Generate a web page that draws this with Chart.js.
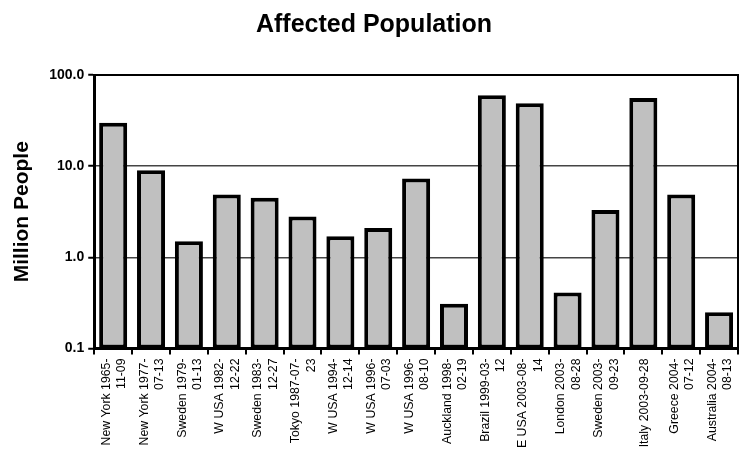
<!DOCTYPE html>
<html>
<head>
<meta charset="utf-8">
<script src="https://cdn.jsdelivr.net/npm/chart.js@4/dist/chart.umd.min.js"></script>
<style>
  html, body { margin: 0; padding: 0; background: #fff; }
  #wrap { width: 740px; height: 452px; }
</style>
</head>
<body>
<div id="wrap"><canvas id="chart"></canvas></div>
<script>
// event labels (two lines each, as printed under the bars)
const events = [
  ["New York 1965-", "11-09"],
  ["New York 1977-", "07-13"],
  ["Sweden 1979-", "01-13"],
  ["W USA 1982-", "12-22"],
  ["Sweden 1983-", "12-27"],
  ["Tokyo 1987-07-", "23"],
  ["W USA 1994-", "12-14"],
  ["W USA 1996-", "07-03"],
  ["W USA 1996-", "08-10"],
  ["Auckland 1998-", "02-19"],
  ["Brazil 1999-03-", "12"],
  ["E USA 2003-08-", "14"],
  ["London 2003-", "08-28"],
  ["Sweden 2003-", "09-23"],
  ["Italy 2003-09-28"],
  ["Greece 2004-", "07-12"],
  ["Australia 2004-", "08-13"]
];

// million people affected
const affected = [30, 9, 1.5, 4.9, 4.5, 2.8, 1.7, 2.1, 7.3, 0.31, 60, 49, 0.41, 3.3, 56, 4.9, 0.25];

const yTicks = [0.1, 1, 10, 100];

const font = "'Liberation Sans', Arial, sans-serif";

// black frame round the plot area
const frame = {
  id: 'frame',
  afterDraw(chart) {
    const { ctx, chartArea: a } = chart;
    ctx.save();
    ctx.strokeStyle = '#000';
    ctx.lineWidth = 2;
    ctx.beginPath();
    ctx.moveTo(a.left, a.top);
    ctx.lineTo(a.right, a.top);
    ctx.lineTo(a.right, a.bottom);
    ctx.stroke();
    ctx.restore();
  }
};

// centre the rotated two-line labels on their bar, and drop the side padding
function fitX(scale) {
  scale.paddingLeft = 0;
  scale.paddingRight = 0;
  if (!scale._centred) {
    scale._centred = true;
    const orig = scale._computeLabelItems;
    scale._computeLabelItems = function (area) {
      const items = orig.call(this, area);
      items.forEach(it => {
        const n = Array.isArray(it.label) ? it.label.length : 1;
        it.textOffset -= (n - 1) * it.font.lineHeight / 2 - 1;
      });
      return items;
    };
  }
}

new Chart(document.getElementById('chart'), {
  type: 'bar',
  data: {
    labels: events,
    datasets: [{
      data: affected,
      backgroundColor: '#c0c0c0',
      borderColor: '#000',
      borderWidth: 4,
      borderSkipped: false,
      barPercentage: 0.74,
      categoryPercentage: 1
    }]
  },
  options: {
    responsive: true,
    maintainAspectRatio: false,
    animation: false,
    layout: { padding: { left: 10, right: 2, bottom: 0 } },
    plugins: {
      legend: { display: false },
      tooltip: { enabled: false },
      title: {
        display: true,
        text: 'Affected Population',
        color: '#000',
        font: { family: font, size: 25, weight: 'bold' },
        padding: { top: 10, bottom: 35 }
      }
    },
    scales: {
      x: {
        offset: true,
        afterFit: fitX,
        grid: { display: true, drawOnChartArea: false, offset: true, tickLength: 6, color: '#000', lineWidth: 2 },
        border: { color: '#000', width: 3 },
        ticks: {
          color: '#000',
          maxRotation: 90,
          minRotation: 90,
          autoSkip: false,
          padding: 4,
          font: { family: font, size: 12.3, lineHeight: 1.25 }
        }
      },
      y: {
        type: 'logarithmic',
        min: 0.1,
        max: 100,
        afterBuildTicks: axis => { axis.ticks = yTicks.map(v => ({ value: v })); },
        grid: {
          color: ctx => (ctx.tick && (ctx.tick.value === 1 || ctx.tick.value === 10)) ? '#444' : 'rgba(0,0,0,0)',
          lineWidth: 1.5,
          tickLength: 6,
          tickColor: '#000',
          tickWidth: 2
        },
        border: { color: '#000', width: 3 },
        title: {
          display: true,
          text: 'Million People',
          color: '#000',
          font: { family: font, size: 21, weight: 'bold' },
          padding: { top: 0, bottom: 10 }
        },
        ticks: {
          color: '#000',
          padding: 4,
          font: { family: font, size: 14, weight: 'bold' },
          callback: v => Number(v).toFixed(1)
        }
      }
    }
  },
  plugins: [frame]
});
</script>
</body>
</html>
